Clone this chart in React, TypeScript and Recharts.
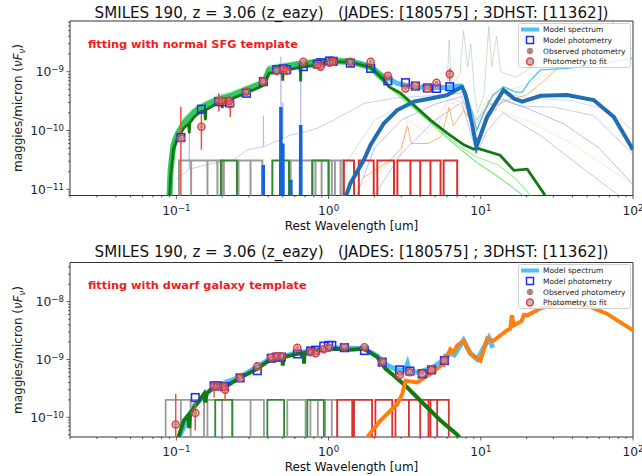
import React from "react";
import { ComposedChart, Line, Scatter, XAxis, YAxis, ErrorBar, ReferenceArea } from "recharts";

const FONT = "DejaVu Sans, Verdana, sans-serif";

// ---- axes ----
const xMajor = [0.1, 1, 10, 100];
const xExp = ["\u22121", "0", "1", "2"];
const xMinor = [0.02, 0.03, 0.04, 0.05, 0.06, 0.07, 0.08, 0.09, 0.2, 0.3, 0.4, 0.5, 0.6, 0.7, 0.8, 0.9, 2, 3, 4, 5, 6, 7, 8, 9, 20, 30, 40, 50, 60, 70, 80, 90];

const topYDomain = [7.85e-12, 7.28e-9];
const topYMajor = [1e-11, 1e-10, 1e-9];
const topYExp = ["\u221211", "\u221210", "\u22129"];
const topYMinor = [8e-12, 9e-12, 2e-11, 3e-11, 4e-11, 5e-11, 6e-11, 7e-11, 8e-11, 9e-11, 2e-10, 3e-10, 4e-10, 5e-10, 6e-10, 7e-10, 8e-10, 9e-10, 2e-9, 3e-9, 4e-9, 5e-9, 6e-9, 7e-9];

const botYDomain = [4.56e-11, 4.76e-8];
const botYMajor = [1e-10, 1e-9, 1e-8];
const botYExp = ["\u221210", "\u22129", "\u22128"];
const botYMinor = [5e-11, 6e-11, 7e-11, 8e-11, 9e-11, 2e-10, 3e-10, 4e-10, 5e-10, 6e-10, 7e-10, 8e-10, 9e-10, 2e-9, 3e-9, 4e-9, 5e-9, 6e-9, 7e-9, 8e-9, 9e-9, 2e-8, 3e-8, 4e-8];

// ---- top panel: photometry ----
const topFitLam = [0.107, 0.146, 0.19, 0.2, 0.222, 0.226, 0.288, 0.373, 0.456, 0.504, 0.53, 0.682, 0.843, 0.886, 1.015, 1.07, 1.39, 1.89, 2.45, 3.2, 3.72, 4.45, 5.12, 6.25];
const topFitFlux = [7.4e-11, 1.16e-10, 3.2e-10, 3.2e-10, 3.2e-10, 2.8e-10, 4.57e-10, 6.8e-10, 1.03e-9, 1.1e-9, 1.04e-9, 1.48e-9, 1.3e-9, 1.22e-9, 1.42e-9, 1.48e-9, 1.48e-9, 1.48e-9, 8.5e-10, 5.2e-10, 5.7e-10, 5.2e-10, 6.5e-10, 9.1e-10];
const topFitLo = [7.85e-12, 4.7e-11, 2.1e-10, 3.0e-10, 3.0e-10, 1.7e-10, 4.3e-10, 6.4e-10, 9.7e-10, 1.03e-9, 9.8e-10, 1.39e-9, 1.22e-9, 1.15e-9, 1.34e-9, 1.39e-9, 1.39e-9, 1.39e-9, 8.0e-10, 4.9e-10, 5.4e-10, 4.9e-10, 6.1e-10, 6.8e-10];
const topFitHi = [2.54e-10, 1.98e-10, 4.3e-10, 3.4e-10, 3.4e-10, 3.76e-10, 4.85e-10, 7.2e-10, 1.09e-9, 1.17e-9, 1.1e-9, 1.57e-9, 1.38e-9, 1.29e-9, 1.51e-9, 1.57e-9, 1.57e-9, 1.57e-9, 9.0e-10, 5.5e-10, 6.0e-10, 5.5e-10, 6.9e-10, 1.14e-9];
const topModLam = [0.107, 0.146, 0.19, 0.2, 0.224, 0.288, 0.373, 0.456, 0.504, 0.53, 0.682, 0.843, 0.886, 1.015, 1.07, 1.39, 1.89, 2.45, 3.2, 3.72, 4.45, 5.12, 6.25];
const topModFlux = [7.6e-11, 2.3e-10, 3.1e-10, 3.1e-10, 2.95e-10, 4.3e-10, 6.8e-10, 1.08e-9, 1.12e-9, 1.08e-9, 1.22e-9, 1.35e-9, 1.42e-9, 1.52e-9, 1.5e-9, 1.4e-9, 1.14e-9, 7.0e-10, 6.5e-10, 5.7e-10, 5.3e-10, 5.2e-10, 5.55e-10];

// ---- top panel: spectra ----
const topStarLam = [0.0894, 0.0917, 0.0955, 0.1017, 0.112, 0.1205, 0.1215, 0.1225, 0.131, 0.144, 0.1535, 0.155, 0.1565, 0.186, 0.198, 0.2, 0.202, 0.227, 0.292, 0.376, 0.405, 0.48, 0.497, 0.5, 0.503, 0.509, 0.652, 0.655, 0.658, 0.843, 1.03, 1.39, 1.886, 2.37, 2.49, 2.97, 3.63, 4.67, 6.01, 7.74, 9.0, 9.46, 13.4, 16.5, 20.2, 25.9, 27.5];
const topStarFlux = [5e-12, 1.64e-11, 4.7e-11, 7.4e-11, 1.1e-10, 1.3e-10, 9e-11, 1.35e-10, 1.7e-10, 2.08e-10, 2.2e-10, 1.5e-10, 2.25e-10, 2.9e-10, 3.0e-10, 2.4e-10, 3.0e-10, 3.4e-10, 4.4e-10, 5.9e-10, 9.4e-10, 1.0e-9, 1.03e-9, 7.0e-10, 1.03e-9, 1.04e-9, 1.18e-9, 6.8e-10, 1.19e-9, 1.3e-9, 1.48e-9, 1.45e-9, 1.19e-9, 6.8e-10, 5.55e-10, 4.3e-10, 2.7e-10, 1.5e-10, 9e-11, 5.7e-11, 4.8e-11, 5e-11, 3.8e-11, 2.1e-11, 2.2e-11, 8.6e-12, 6e-12];
const topBandLam = [0.0894, 0.0917, 0.0955, 0.1017, 0.112, 0.131, 0.144, 0.186, 0.227, 0.292, 0.376, 0.405, 0.509, 0.655, 0.843, 1.08, 1.39, 1.886, 2.37];
const topBandFlux = [5e-12, 2.2e-11, 5.5e-11, 8.5e-11, 1.3e-10, 2.0e-10, 2.4e-10, 3.3e-10, 3.8e-10, 5.0e-10, 6.5e-10, 1.05e-9, 1.2e-9, 1.35e-9, 1.45e-9, 1.5e-9, 1.48e-9, 1.2e-9, 7e-10];
const topBandHiFlux = [8e-12, 3e-11, 7e-11, 1e-10, 1.55e-10, 2.35e-10, 2.7e-10, 3.75e-10, 4.3e-10, 5.55e-10, 7.2e-10, 1.22e-9, 1.35e-9, 1.48e-9, 1.6e-9, 1.7e-9, 1.6e-9, 1.25e-9, 7.2e-10];
const topStar2Lam = [2.0, 3.0, 4.67, 6.0, 7.74, 9.5, 12, 16, 20];
const topStar2Flux = [9e-10, 3.6e-10, 1.35e-10, 7.5e-11, 4.3e-11, 2.8e-11, 1.9e-11, 1.1e-11, 7e-12];
const topStar3Lam = [2.0, 3.0, 4.67, 6.0, 7.74, 9.5, 13, 17, 22];
const topStar3Flux = [9e-10, 3.9e-10, 1.4e-10, 8e-11, 4.8e-11, 3.5e-11, 2.6e-11, 1.5e-11, 7e-12];

const topDustLam = [1.26, 1.39, 1.71, 1.886, 2.31, 2.83, 3.63, 4.67, 6.01, 7.53, 7.9, 8.7, 9.36, 11.0, 14.1, 16.5, 18.7, 24.7, 36.9, 55.2, 74.8, 100];
const topDustFlux = [6e-12, 1.26e-11, 3.2e-11, 5.7e-11, 1.33e-10, 2.23e-10, 3.1e-10, 3.5e-10, 4.0e-10, 5.55e-10, 4.2e-10, 1.4e-10, 5.3e-11, 1.7e-10, 4.9e-10, 3.5e-10, 3.1e-10, 3.9e-10, 4.0e-10, 3.3e-10, 1.7e-10, 4.7e-11];
const topModelLam = [0.6, 0.8, 1.0, 1.39, 1.886, 2.2, 2.45, 2.83, 3.63, 4.67, 6.0, 7.5];
const topModelFlux = [1.3e-9, 1.4e-9, 1.55e-9, 1.52e-9, 1.25e-9, 9e-10, 7.7e-10, 6.3e-10, 5.5e-10, 5.4e-10, 5.4e-10, 5.8e-10];
const topModelIRLam = [7.5, 8.0, 8.8, 9.4, 10.5, 12, 14.1, 17, 18.7, 21, 24.7, 36.9, 60, 100];
const topModelIRFlux = [5.8e-10, 4.5e-10, 2e-10, 1.0e-10, 2e-10, 4e-10, 5.55e-10, 4.5e-10, 4.5e-10, 7e-10, 1.07e-9, 1.14e-9, 1.35e-9, 1.7e-9];

const topLinesLam = [0.3715, 0.372, 0.3725, 0.4845, 0.486, 0.4875, 0.4995, 0.5007, 0.502, 0.5635, 0.565, 0.5665, 0.6545, 0.656, 0.6575];
const topLinesFlux = [5e-12, 2.6e-11, 5e-12, 5e-12, 2.5e-10, 5e-12, 5e-12, 6e-11, 5e-12, 5e-12, 1.45e-11, 5e-12, 5e-12, 1.24e-10, 5e-12];
const topFaint1Lam = [0.1, 0.121, 0.1216, 0.1225, 0.155, 0.239, 0.292, 0.372, 0.373, 0.375, 0.484, 0.486, 0.489, 0.499, 0.5007, 0.502, 0.563, 0.654, 0.656, 0.659, 0.843, 1.08, 1.71, 2.83, 4.67, 7.5, 9.4, 11, 14, 18, 30, 55, 100];
const topFaint1Flux = [1.5e-11, 2.2e-11, 2e-10, 2.2e-11, 2.6e-11, 3.2e-11, 4.7e-11, 5.3e-11, 1.8e-10, 5.3e-11, 7e-11, 1.8e-9, 7e-11, 7.2e-11, 3e-10, 7.2e-11, 8.4e-11, 9e-11, 1.07e-9, 9e-11, 1.1e-10, 1.5e-10, 2.9e-10, 3.6e-10, 3.9e-10, 4.3e-10, 1.5e-10, 2.6e-10, 3.5e-10, 2.6e-10, 2.5e-10, 1.8e-10, 4e-11];
const topFaint2Lam = [1.5, 2.0, 3.0, 5.0, 7.5, 9.4, 11, 14, 20, 35, 60, 100];
const topFaint2Flux = [7e-12, 5e-11, 1.5e-10, 2.8e-10, 3.8e-10, 7e-11, 1.5e-10, 3.3e-10, 2.4e-10, 1.3e-10, 5e-11, 1.2e-11];
const topFaint3Lam = [2.0, 3.0, 5.0, 7.5, 9.4, 11, 14, 25, 50, 80];
const topFaint3Flux = [8e-12, 4e-11, 1.5e-10, 3e-10, 4e-11, 1e-10, 2e-10, 8e-11, 2e-11, 8e-12];
const topFaint4Lam = [1.2, 2.0, 3.0, 5, 7.5, 9.4, 12, 14, 20, 40, 70, 100];
const topFaint4Flux = [2e-11, 1.5e-10, 2.6e-10, 3.4e-10, 4.5e-10, 1.3e-10, 4e-10, 4.4e-10, 3.6e-10, 3.2e-10, 2.2e-10, 1e-10];
const topOrange1Lam = [1.7, 2.5, 3.0, 3.3, 3.5, 4.5, 5.5, 6.2, 6.6, 7.7, 8.6, 9.5, 11.3, 12, 15, 20, 25, 37, 55, 75, 90];
const topOrange1Flux = [1.6e-11, 3e-11, 5e-11, 1.2e-10, 6e-11, 6e-11, 7.8e-11, 2.5e-10, 1.2e-10, 2.2e-10, 1.5e-10, 1.1e-10, 3.3e-10, 2.5e-10, 3.3e-10, 4e-10, 6.4e-10, 1.58e-9, 3.5e-9, 7e-9, 9e-9];
const topOrange2Lam = [1.5, 3, 3.3, 4.5, 6.2, 7.7, 9.5, 11.3, 20, 40, 100];
const topOrange2Flux = [1e-11, 4e-11, 1.5e-10, 9e-11, 3.5e-10, 3e-10, 1.5e-10, 4e-10, 6e-10, 1.5e-9, 3e-9];
const topOrange3Lam = [5, 6.2, 7.7, 9.5, 11.3, 20, 40, 100];
const topOrange3Flux = [1e-10, 3e-10, 2.5e-10, 9e-11, 2.5e-10, 1.5e-10, 6e-11, 1.2e-11];
const topPahLam = [5, 6.0, 6.2, 6.4, 7.3, 7.7, 8.2, 8.6, 9.0, 9.5, 10.5, 11.3, 11.8, 12.7, 13.5, 17, 25, 40, 100];
const topPahFlux = [5e-10, 6e-10, 3.5e-9, 6e-10, 9e-10, 5e-9, 1.2e-9, 3e-9, 6e-10, 2e-10, 4e-10, 6e-9, 1.2e-9, 4e-9, 1e-9, 8e-10, 1.5e-9, 2e-9, 2.5e-9];

// filter transmission curves (edges in um)
const topFilterLevel = 3.1e-11;
const topFilterFloor = 5e-12;
const topGrayEdges = [[0.104, 0.186], [0.125, 0.2], [0.16, 0.205], [0.256, 0.307], [0.307, 0.367], [0.563, 0.782], [0.82, 1.0], [0.9, 1.1], [1.0, 1.2], [1.05, 1.25]];
const topGreenEdges = [[0.196, 0.25], [0.427, 0.549], [0.782, 1.0]];
const topRedEdges = [[1.26, 1.47], [1.58, 1.98], [2.09, 2.69], [2.83, 3.45], [3.45, 4.0], [4.0, 4.67], [4.67, 5.44], [5.7, 7.0]];

// ---- bottom panel ----
const botFitLam = [0.099, 0.133, 0.177, 0.186, 0.205, 0.209, 0.262, 0.34, 0.42, 0.454, 0.489, 0.623, 0.762, 0.822, 0.93, 1.0, 1.27, 1.72, 2.25, 2.93, 3.42, 4.12, 4.75, 5.77];
const botFitFlux = [7.5e-11, 1.19e-10, 3.4e-10, 3.4e-10, 3.4e-10, 3.0e-10, 4.8e-10, 7.6e-10, 1.07e-9, 1.13e-9, 1.13e-9, 1.6e-9, 1.34e-9, 1.29e-9, 1.5e-9, 1.6e-9, 1.63e-9, 1.63e-9, 9.0e-10, 5.4e-10, 6.0e-10, 5.65e-10, 6.6e-10, 9.6e-10];
const botFitLo = [4.56e-11, 5.9e-11, 2.2e-10, 3.2e-10, 3.2e-10, 1.94e-10, 4.5e-10, 7.1e-10, 1.0e-9, 1.06e-9, 1.06e-9, 1.5e-9, 1.26e-9, 1.21e-9, 1.41e-9, 1.5e-9, 1.53e-9, 1.53e-9, 8.5e-10, 5.1e-10, 5.6e-10, 5.3e-10, 6.2e-10, 7.4e-10];
const botFitHi = [2.54e-10, 1.94e-10, 4.0e-10, 3.6e-10, 3.6e-10, 3.8e-10, 5.1e-10, 8.1e-10, 1.14e-9, 1.2e-9, 1.2e-9, 1.7e-9, 1.42e-9, 1.37e-9, 1.59e-9, 1.7e-9, 1.73e-9, 1.73e-9, 9.5e-10, 5.7e-10, 6.4e-10, 6.0e-10, 7.0e-10, 1.25e-9];
const botModLam = [0.133, 0.177, 0.186, 0.207, 0.262, 0.34, 0.42, 0.454, 0.489, 0.623, 0.762, 0.822, 0.93, 1.0, 1.05, 1.27, 1.72, 2.25, 2.93, 3.42, 4.12, 4.75, 5.77];
const botModFlux = [2.2e-10, 3.5e-10, 3.5e-10, 3.4e-10, 4.8e-10, 6.4e-10, 1.05e-9, 1.1e-9, 1.1e-9, 1.25e-9, 1.4e-9, 1.45e-9, 1.7e-9, 1.75e-9, 1.75e-9, 1.6e-9, 1.43e-9, 9.0e-10, 6.6e-10, 6.3e-10, 5.65e-10, 6.6e-10, 9.6e-10];

const botStarLam = [0.1017, 0.112, 0.12, 0.1215, 0.123, 0.131, 0.152, 0.155, 0.158, 0.177, 0.216, 0.264, 0.34, 0.405, 0.45, 0.497, 0.5, 0.503, 0.509, 0.623, 0.686, 0.69, 0.694, 0.843, 1.14, 1.39, 1.71, 2.09, 2.37, 2.68, 3.28, 4.22, 5.44, 7.0, 7.5];
const botStarFlux = [4e-11, 8.8e-11, 1.1e-10, 6.5e-11, 1.15e-10, 1.49e-10, 2.54e-10, 1.8e-10, 2.6e-10, 3.3e-10, 3.55e-10, 4.9e-10, 6.9e-10, 9.6e-10, 1.0e-9, 1.05e-9, 7.8e-10, 1.07e-9, 1.1e-9, 1.25e-9, 1.28e-9, 8.5e-10, 1.3e-9, 1.43e-9, 1.53e-9, 1.47e-9, 1.53e-9, 1.1e-9, 6.9e-10, 5.3e-10, 3.3e-10, 1.7e-10, 8.8e-11, 5.0e-11, 4e-11];
const botModelLam = [0.1017, 0.131, 0.177, 0.264, 0.405, 0.623, 1.0, 1.71, 2.09, 2.43, 2.82, 3.2, 3.3, 3.4, 3.8, 4.67, 5.6, 6.2, 6.7, 7.7, 8.5, 9.5, 11.3, 12];
const botModelFlux = [4e-11, 1.6e-10, 3.4e-10, 5e-10, 1.0e-9, 1.3e-9, 1.6e-9, 1.55e-9, 1.15e-9, 7.9e-10, 6.6e-10, 6.6e-10, 8.4e-10, 6.3e-10, 6.0e-10, 6.9e-10, 9.5e-10, 1.3e-9, 1.2e-9, 2.15e-9, 1.3e-9, 1.0e-9, 2.35e-9, 1.6e-9];
const botDustLam = [1.79, 2.19, 2.83, 3.05, 3.2, 3.82, 4.67, 5.86, 6.3, 6.64, 7.0, 7.74, 8.55, 9.95, 11.0, 12.1, 14.9, 15.6, 16.0, 16.5, 18.5, 19.2, 20.2, 24.6, 31.6, 40.6, 52.3, 67.3, 100];
const botDustFlux = [4.5e-11, 8.8e-11, 1.7e-10, 2.54e-10, 4.3e-10, 4.0e-10, 5.65e-10, 9.0e-10, 1.5e-9, 1.34e-9, 1.75e-9, 2.1e-9, 1.25e-9, 9.6e-10, 2.3e-9, 2.1e-9, 3.2e-9, 3.4e-9, 5.8e-9, 3.9e-9, 4.6e-9, 5.9e-9, 5.8e-9, 7.6e-9, 9.2e-9, 9.5e-9, 8.1e-9, 6.2e-9, 3.2e-9];

const botFilterLevel = 2.0e-10;
const botFilterFloor = 3e-11;
const botGrayEdges = [[0.085, 0.124], [0.107, 0.16], [0.152, 0.2], [0.233, 0.307], [0.307, 0.376], [0.535, 0.706], [0.76, 0.95], [0.85, 1.05], [0.95, 1.14]];
const botGreenEdges = [[0.18, 0.233], [0.396, 0.51], [0.725, 0.93]];
const botRedEdges = [[1.14, 1.43], [1.47, 1.93], [2.03, 2.62], [2.75, 3.37], [3.37, 4.0], [4.0, 4.67], [4.53, 5.17], [5.17, 6.16]];

// ---- helpers ----
const pts = (lam: number[], flux: number[]) => lam.map((x, i) => ({ x, y: flux[i] }));
const boxes = (edges: number[][], level: number, floor: number) =>
  edges.flatMap(([a, b]) => [
    { x: a, y: floor },
    { x: a, y: level },
    { x: b, y: level },
    { x: b, y: floor },
  ]);
const withErr = (lam: number[], flux: number[], lo: number[], hi: number[]) =>
  lam.map((x, i) => ({ x, y: flux[i], err: [flux[i] - lo[i], hi[i] - flux[i]] }));

const C = {
  star: "#137a13",
  band: "#1fc24f",
  bandHi: "#74e39c",
  model: "#4ec3f3",
  dust: "#1f6db5",
  orange: "#ff7f0e",
  red: "#f03c3c",
  square: "#2030f0",
  gray: "#9a9a9a",
  fGreen: "#2f8a2f",
  fRed: "#d93030",
};

type S = { data: { x: number; y: number }[]; color: string; width: number; opacity?: number };

const topSeries: S[] = [
  { data: pts(topOrange2Lam, topOrange2Flux), color: "#ffb36b", width: 1, opacity: 0.35 },
  { data: pts(topOrange3Lam, topOrange3Flux), color: "#ffb36b", width: 1, opacity: 0.35 },
  { data: pts(topPahLam, topPahFlux), color: "#9fbf9f", width: 1, opacity: 0.5 },
  { data: pts(topFaint1Lam, topFaint1Flux), color: "#7f7ff0", width: 1, opacity: 0.4 },
  { data: pts(topFaint2Lam, topFaint2Flux), color: "#5a5ae8", width: 1, opacity: 0.4 },
  { data: pts(topFaint3Lam, topFaint3Flux), color: "#5a5ae8", width: 1, opacity: 0.35 },
  { data: pts(topFaint4Lam, topFaint4Flux), color: "#8fb8f0", width: 1, opacity: 0.45 },
  { data: pts(topOrange1Lam, topOrange1Flux), color: "#f5a040", width: 1, opacity: 0.75 },
  { data: boxes(topGrayEdges, topFilterLevel, topFilterFloor), color: C.gray, width: 2 },
  { data: boxes(topGreenEdges, topFilterLevel, topFilterFloor), color: C.fGreen, width: 2 },
  { data: boxes(topRedEdges, topFilterLevel, topFilterFloor), color: C.fRed, width: 2 },
  { data: pts(topLinesLam, topLinesFlux), color: "#1565d8", width: 3.5 },
  { data: pts(topStar2Lam, topStar2Flux), color: "#66dd66", width: 1.2, opacity: 0.8 },
  { data: pts(topStar3Lam, topStar3Flux), color: "#88ee88", width: 1.2, opacity: 0.8 },
  { data: pts(topModelIRLam, topModelIRFlux), color: C.model, width: 1.3 },
  { data: pts(topModelLam, topModelFlux), color: C.model, width: 5 },
  { data: pts(topBandLam, topBandHiFlux), color: C.bandHi, width: 2.5, opacity: 0.9 },
  { data: pts(topBandLam, topBandFlux), color: C.band, width: 6, opacity: 0.9 },
  { data: pts(topStarLam, topStarFlux), color: C.star, width: 2.8 },
  { data: pts(topDustLam, topDustFlux), color: C.dust, width: 4 },
];

const botSeries: S[] = [
  { data: boxes(botGrayEdges, botFilterLevel, botFilterFloor), color: C.gray, width: 1.8 },
  { data: boxes(botGreenEdges, botFilterLevel, botFilterFloor), color: C.fGreen, width: 1.8 },
  { data: boxes(botRedEdges, botFilterLevel, botFilterFloor), color: C.fRed, width: 1.8 },
  { data: pts(botModelLam, botModelFlux), color: C.model, width: 5 },
  { data: pts(botStarLam, botStarFlux), color: C.star, width: 4 },
  { data: pts(botDustLam, botDustFlux), color: C.orange, width: 4 },
];

// ---- ticks ----
const XTick = (props: any) => {
  const { x, y, payload } = props;
  const i = xMajor.indexOf(payload.value);
  return (
    <g>
      <line x1={x} x2={x} y1={y} y2={y + (i >= 0 ? 3.5 : 2)} stroke="#333" strokeWidth={0.8} />
      {i >= 0 && (
        <text x={x} y={y + 19} textAnchor="middle" fontSize={12.3} fontFamily={FONT} fill="#222">
          10<tspan dy={-4} fontSize={8.6}>{xExp[i]}</tspan>
        </text>
      )}
    </g>
  );
};

const makeYTick = (majors: number[], exps: string[]) => (props: any) => {
  const { x, y, payload } = props;
  const i = majors.indexOf(payload.value);
  return (
    <g>
      <line x1={x - (i >= 0 ? 3.5 : 2)} x2={x} y1={y} y2={y} stroke="#333" strokeWidth={0.8} />
      {i >= 0 && (
        <text x={x - 6} y={y + 4.5} textAnchor="end" fontSize={12.3} fontFamily={FONT} fill="#222">
          10<tspan dy={-4} fontSize={8.6}>{exps[i]}</tspan>
        </text>
      )}
    </g>
  );
};

const Square = (p: any) => (
  <rect x={p.cx - 3.8} y={p.cy - 3.8} width={7.6} height={7.6} fill="none" stroke={C.square} strokeWidth={1.6} />
);
const Ring = (p: any) => <circle cx={p.cx} cy={p.cy} r={3.5} fill="none" stroke={C.red} strokeWidth={1.6} />;
const Dot = (p: any) => <circle cx={p.cx} cy={p.cy} r={2.2} fill="#9a9a9a" />;

function Panel(props: any) {
  const { top, marginTop, axisH, yDomain, yMajor, yExp, yMinor, series, fit, mod } = props;
  return (
    <div style={{ position: "absolute", left: 0, top }}>
      <ComposedChart width={642} height={236} margin={{ top: marginTop, right: 9, bottom: 0, left: 0 }}>
        <XAxis
          type="number"
          dataKey="x"
          scale="log"
          domain={[0.02, 100]}
          allowDataOverflow
          ticks={[...xMajor, ...xMinor]}
          interval={0}
          tick={<XTick />}
          tickSize={0}
          tickMargin={0}
          tickLine={false}
          axisLine={false}
          height={axisH}
        />
        <YAxis
          type="number"
          dataKey="y"
          scale="log"
          domain={yDomain}
          allowDataOverflow
          ticks={[...yMajor, ...yMinor]}
          interval={0}
          tick={makeYTick(yMajor, yExp)}
          tickSize={0}
          tickMargin={0}
          tickLine={false}
          axisLine={false}
          width={70}
        />
        <ReferenceArea x1={0.02} x2={100} y1={yDomain[0]} y2={yDomain[1]} fill="none" stroke="#333" strokeWidth={1} ifOverflow="visible" />
        {series.map((s: S, i: number) => (
          <Line
            key={i}
            data={s.data}
            dataKey="y"
            type="linear"
            stroke={s.color}
            strokeWidth={s.width}
            strokeOpacity={s.opacity ?? 1}
            dot={false}
            activeDot={false}
            isAnimationActive={false}
          />
        ))}
        <Scatter data={mod} shape={Square} isAnimationActive={false} />
        <Scatter data={fit} shape={Dot} isAnimationActive={false}>
          <ErrorBar dataKey="err" direction="y" width={0} stroke="#f0503c" strokeWidth={1.5} />
        </Scatter>
        <Scatter data={fit} shape={Ring} isAnimationActive={false} />
      </ComposedChart>
    </div>
  );
}

function LegendBox({ left, top }: { left: number; top: number }) {
  const rows = ["Model spectrum", "Model photometry", "Observed photometry", "Photometry to fit"];
  return (
    <svg style={{ position: "absolute", left, top }} width={113} height={45}>
      <rect x={0.5} y={0.5} width={112} height={44} rx={2} fill="rgba(255,255,255,0.8)" stroke="#d0d0d0" />
      <line x1={3} x2={21} y1={6.5} y2={6.5} stroke={C.model} strokeWidth={4} />
      <rect x={8.5} y={13.5} width={7} height={7} fill="none" stroke={C.square} strokeWidth={1.5} />
      <circle cx={12} cy={28} r={3.2} fill="#9a9a9a" />
      <line x1={12} x2={12} y1={25} y2={31} stroke="#f0503c" strokeWidth={1.2} />
      <circle cx={12} cy={38.5} r={3.4} fill="#bbb" stroke={C.red} strokeWidth={1.5} />
      {rows.map((r, i) => (
        <text key={r} x={25} y={9.3 + i * 10.6} fontSize={7.5} fontFamily={FONT} fill="#222">
          {r}
        </text>
      ))}
    </svg>
  );
}

function Labels() {
  const title = "SMILES 190, z = 3.06 (z_eazy)   (JADES: [180575] ; 3DHST: [11362])";
  const ylab = (cy: number) => (
    <text transform={`translate(22,${cy}) rotate(-90)`} textAnchor="middle" fontSize={12} fontFamily={FONT} fill="#222">
      maggies/micron (<tspan fontStyle="italic">νF</tspan>
      <tspan fontStyle="italic" fontSize={8.5} dy={3}>ν</tspan>
      <tspan dy={-3}>)</tspan>
    </text>
  );
  return (
    <svg style={{ position: "absolute", left: 0, top: 0, pointerEvents: "none" }} width={642} height={476}>
      <g fontFamily={FONT} fill="#111">
        <text x={351.5} y={17.5} textAnchor="middle" fontSize={15.1} xmlSpace="preserve" style={{ whiteSpace: "pre" }}>{title}</text>
        <text x={351.5} y={256.5} textAnchor="middle" fontSize={15.1} xmlSpace="preserve" style={{ whiteSpace: "pre" }}>{title}</text>
        <text x={351.5} y={229.5} textAnchor="middle" fontSize={12}>Rest Wavelength [um]</text>
        <text x={351.5} y={470.5} textAnchor="middle" fontSize={12}>Rest Wavelength [um]</text>
      </g>
      <text x={88} y={48} fontSize={11.3} fontWeight="bold" fontFamily={FONT} fill="#f21b1b">fitting with normal SFG template</text>
      <text x={88} y={289} fontSize={11.3} fontWeight="bold" fontFamily={FONT} fill="#f21b1b">fitting with dwarf galaxy template</text>
      {ylab(108)}
      {ylab(350)}
    </svg>
  );
}

export default function App() {
  return (
    <div style={{ position: "absolute", left: 0, top: 0, width: 642, height: 476, background: "#fff", overflow: "hidden" }}>
      <Panel
        top={0}
        marginTop={21}
        axisH={40.5}
        yDomain={topYDomain}
        yMajor={topYMajor}
        yExp={topYExp}
        yMinor={topYMinor}
        series={topSeries}
        fit={withErr(topFitLam, topFitFlux, topFitLo, topFitHi)}
        mod={pts(topModLam, topModFlux)}
      />
      <Panel
        top={240}
        marginTop={22.5}
        axisH={39}
        yDomain={botYDomain}
        yMajor={botYMajor}
        yExp={botYExp}
        yMinor={botYMinor}
        series={botSeries}
        fit={withErr(botFitLam, botFitFlux, botFitLo, botFitHi)}
        mod={pts(botModLam, botModFlux)}
      />
      <Labels />
      <LegendBox left={518} top={23} />
      <LegendBox left={518} top={264} />
    </div>
  );
}
